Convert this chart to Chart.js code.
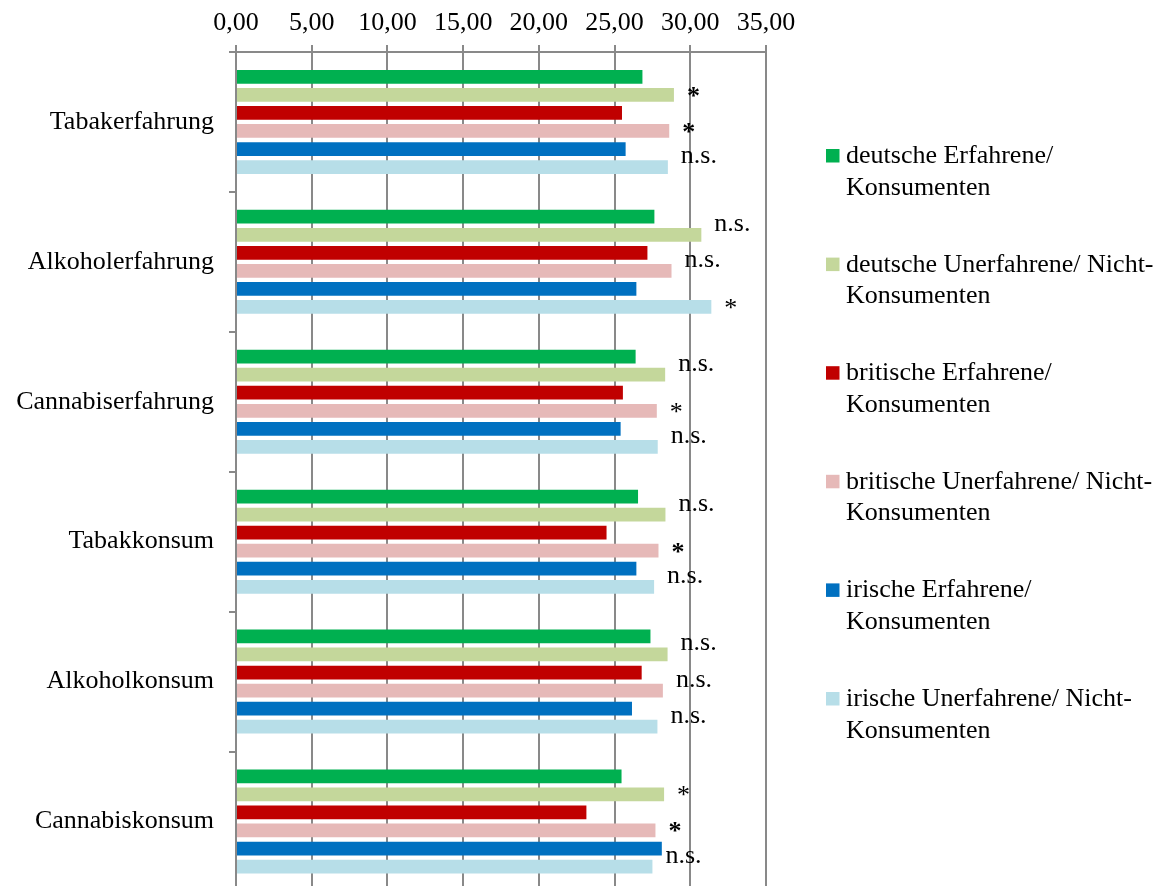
<!DOCTYPE html>
<html>
<head>
<meta charset="utf-8">
<script src="https://cdn.jsdelivr.net/npm/chart.js@4.4.1/dist/chart.umd.min.js"></script>
<style>
  html, body { margin: 0; padding: 0; background: #fff; overflow: hidden; }
</style>
</head>
<body>
<canvas id="grafik" width="1168" height="922"></canvas>
<script>
// Kategorien (y-Achse)
const kategorien = ['Tabakerfahrung', 'Alkoholerfahrung', 'Cannabiserfahrung', 'Tabakkonsum', 'Alkoholkonsum', 'Cannabiskonsum'];

// Mittelwerte je Gruppe
const deErfahrene   = [26.84, 27.63, 26.39, 26.55, 27.37, 25.46];
const deUnerfahrene = [28.92, 30.73, 28.34, 28.36, 28.50, 28.27];
const brErfahrene   = [25.49, 27.17, 25.55, 24.47, 26.79, 23.14];
const brUnerfahrene = [28.61, 28.76, 27.79, 27.90, 28.19, 27.70];
const ieErfahrene   = [25.73, 26.44, 25.40, 26.44, 26.15, 28.12];
const ieUnerfahrene = [28.52, 31.39, 27.85, 27.61, 27.83, 27.50];

// Legendentexte (zweizeilig)
const namen = [
  ['deutsche Erfahrene/', 'Konsumenten'],
  ['deutsche Unerfahrene/ Nicht-', 'Konsumenten'],
  ['britische Erfahrene/', 'Konsumenten'],
  ['britische Unerfahrene/ Nicht-', 'Konsumenten'],
  ['irische Erfahrene/', 'Konsumenten'],
  ['irische Unerfahrene/ Nicht-', 'Konsumenten']
];

// Signifikanz-Markierungen an den Unerfahrenen-Balken
const sigDe = ['*', 'n.s.', 'n.s.', 'n.s.', 'n.s.', '*'];
const sigBr = ['*', 'n.s.', '*', '*', 'n.s.', '*'];
const sigIe = ['n.s.', '*', 'n.s.', 'n.s.', 'n.s.', 'n.s.'];
const fettDe = [true, false, false, false, false, false];
const fettBr = [true, false, false, true, false, true];
const fettIe = [false, false, false, false, false, false];

// x-Achse
const xMin = 0, xMax = 35, xSchritt = 5;

const farben = ['#00B050', '#C4D79B', '#C00000', '#E6B9B8', '#0070C0', '#B7DEE8'];
const werte = [deErfahrene, deUnerfahrene, brErfahrene, brUnerfahrene, ieErfahrene, ieUnerfahrene];
const schrift = "'Liberation Serif', 'Times New Roman', serif";
const grau = '#898989';

// Markierungen: Datensatz-Index -> Texte
const markierungen = [
  { ds: 1, texte: sigDe, fett: fettDe },
  { ds: 3, texte: sigBr, fett: fettBr },
  { ds: 5, texte: sigIe, fett: fettIe }
];

const zusatz = {
  id: 'zusatz',
  afterDatasetsDraw(chart) {
    const ctx = chart.ctx;
    ctx.save();
    ctx.fillStyle = '#000';
    ctx.textAlign = 'left';
    ctx.textBaseline = 'alphabetic';
    markierungen.forEach(m => {
      const meta = chart.getDatasetMeta(m.ds);
      meta.data.forEach((bar, j) => {
        const t = m.texte[j];
        if (!t) return;
        ctx.font = (m.fett[j] ? 'bold ' : '') + '26px ' + schrift;
        const y = t === '*' ? bar.y + 9 : bar.y - 4;
        ctx.fillText(t, bar.x + 13, y);
      });
    });

    // Legende rechts
    ctx.font = '26px ' + schrift;
    chart.data.datasets.forEach((ds, i) => {
      const base = 163 + i * 108.6;
      ctx.fillStyle = ds.backgroundColor;
      ctx.fillRect(826, base - 14, 13.5, 13.5);
      ctx.fillStyle = '#000';
      namen[i].forEach((zeile, k) => ctx.fillText(zeile, 846, base + k * 31.5));
    });
    ctx.restore();
  }
};

new Chart(document.getElementById('grafik').getContext('2d'), {
  type: 'bar',
  data: {
    labels: kategorien,
    datasets: werte.map((w, i) => ({
      label: namen[i].join(' '),
      data: w,
      backgroundColor: farben[i],
      borderWidth: 0,
      categoryPercentage: 0.774,
      barPercentage: 0.76
    }))
  },
  options: {
    indexAxis: 'y',
    responsive: false,
    animation: false,
    layout: { padding: { left: 0, right: 402, top: 0, bottom: 0 } },
    plugins: {
      legend: { display: false },
      tooltip: { enabled: false }
    },
    scales: {
      x: {
        position: 'top',
        min: xMin,
        max: xMax,
        afterFit(s) { s.height = 52; },
        ticks: {
          stepSize: xSchritt,
          color: '#000',
          padding: 6,
          font: { family: schrift, size: 26 },
          callback: v => v.toFixed(2).replace('.', ',')
        },
        grid: { color: grau, lineWidth: 2, tickLength: 7 },
        border: { color: grau, width: 2 }
      },
      y: {
        offset: true,
        afterFit(s) { s.width = 236; },
        ticks: {
          color: '#000',
          padding: 15,
          font: { family: schrift, size: 26 }
        },
        grid: { offset: true, drawOnChartArea: false, color: grau, lineWidth: 2, tickLength: 7 },
        border: { color: grau, width: 2 }
      }
    }
  },
  plugins: [zusatz]
});
</script>
</body>
</html>
